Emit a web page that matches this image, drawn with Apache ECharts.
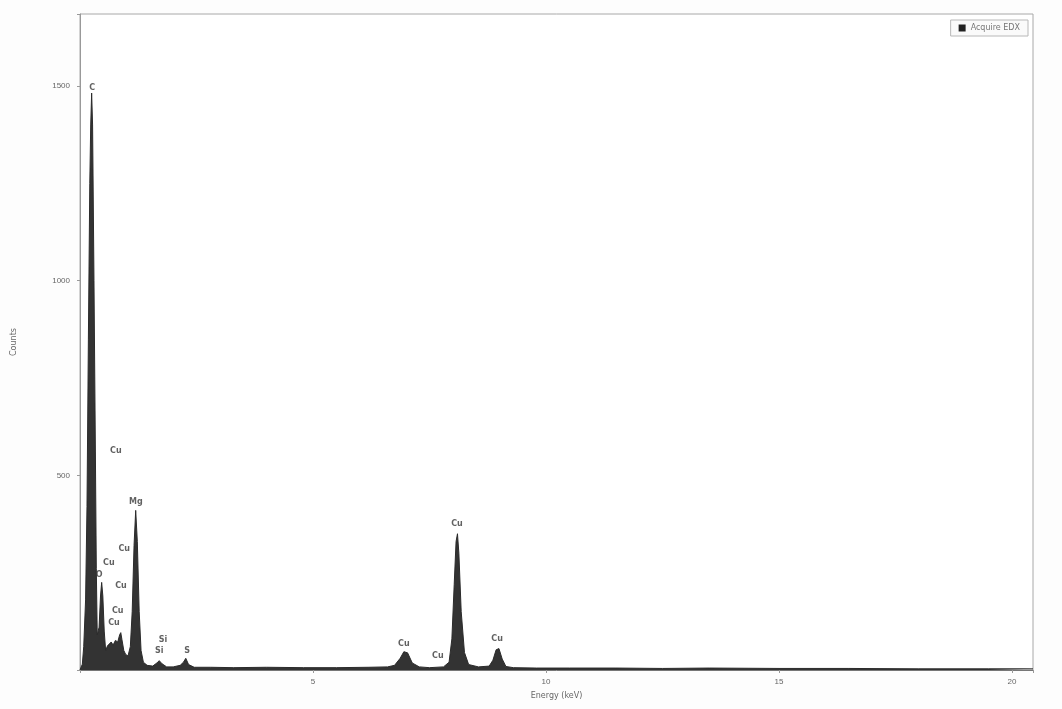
<!DOCTYPE html>
<html>
<head>
<meta charset="utf-8">
<title>EDX spectrum</title>
<script src="https://cdn.jsdelivr.net/npm/echarts@6/dist/echarts.min.js"></script>
<style>
    html, body { margin: 0; padding: 0; background: #fdfdfd; }
    #chart { width: 1062px; height: 709px; }
</style>
</head>
<body>
<div id="chart"></div>
<script>
// spectrum: energy (keV) and counts
const energy = [
    0, 0.05, 0.08, 0.12, 0.15, 0.18, 0.21, 0.23, 0.25, 0.27, 0.30, 0.33, 0.35, 0.37,
    0.41, 0.44, 0.465, 0.49, 0.52, 0.55, 0.59, 0.63, 0.67, 0.71, 0.76, 0.81, 0.85, 0.875, 0.90, 0.94, 0.98, 1.03,
    1.08, 1.12, 1.16, 1.195, 1.23, 1.27, 1.31, 1.36, 1.44, 1.56, 1.65, 1.70, 1.76, 1.86, 2.00, 2.15, 2.22, 2.27, 2.33, 2.45,
    2.8, 3.3, 4.0, 4.8, 5.5, 6.2, 6.6, 6.75, 6.87, 6.95, 7.03, 7.13, 7.28, 7.5, 7.8,
    7.92, 7.98, 8.03, 8.07, 8.10, 8.13, 8.18, 8.25, 8.34, 8.55, 8.78, 8.86, 8.93, 8.99, 9.06, 9.14, 9.30,
    9.8, 10.5, 11.5, 12.5, 13.5, 15, 16.5, 18, 19.5, 20.45
];
const counts = [
    0, 15, 60, 180, 420, 850, 1250, 1400, 1482, 1400, 1000, 560, 260, 90,
    110, 190, 225, 190, 100, 50, 62, 58, 72, 64, 76, 72, 90, 96, 78, 50, 40, 36,
    60, 150, 320, 410, 330, 150, 50, 20, 12, 10, 18, 24, 16, 8, 8, 12, 20, 30, 14, 7,
    7, 6, 7, 6, 6, 7, 8, 12, 30, 47, 44, 18, 8, 6, 8,
    20, 80, 220, 330, 350, 300, 150, 45, 14, 8, 10, 25, 52, 55, 28, 9, 6,
    5, 5, 5, 4, 5, 4, 4, 3, 3, 3
];

// element labels: name, energy, counts where the text sits
const peakNames = ['C', 'Cu', 'Mg', 'Cu', 'Cu', 'O', 'Cu', 'Cu', 'Cu', 'Si', 'Si', 'S', 'Cu', 'Cu', 'Cu', 'Cu'];
const peakEnergy = [0.26, 0.77, 1.20, 0.95, 0.62, 0.41, 0.88, 0.81, 0.73, 1.78, 1.70, 2.30, 6.95, 7.68, 8.09, 8.95];
const peakCounts = [1495, 562, 433, 312, 274, 243, 215, 151, 120, 76, 50, 48, 68, 35, 376, 81];

const seriesName = 'Acquire EDX';

const chart = echarts.init(document.getElementById('chart'));

const hideOdd = step => v => (v === 0 || v % step !== 0 ? '' : String(v));

chart.setOption({
    animation: false,
    backgroundColor: '#fdfdfd',
    grid: {
        left: 80,
        right: 29,
        top: 14,
        bottom: 39,
        show: true,
        borderColor: '#a8a8a8',
        borderWidth: 1,
        backgroundColor: '#ffffff'
    },
    legend: {
        data: [seriesName],
        right: 34,
        top: 20,
        icon: 'rect',
        itemWidth: 7,
        itemHeight: 7,
        itemGap: 4,
        padding: [4, 8],
        borderColor: '#b8b8b8',
        borderWidth: 1,
        backgroundColor: '#fafafa',
        textStyle: { fontSize: 8, color: '#777', fontFamily: 'DejaVu Sans' }
    },
    xAxis: {
        type: 'value',
        min: 0,
        max: 20.45,
        interval: 5,
        name: 'Energy (keV)',
        nameLocation: 'middle',
        nameGap: 22,
        nameTextStyle: { fontSize: 8, color: '#666', fontFamily: 'DejaVu Sans' },
        axisLine: { lineStyle: { color: '#777' } },
        axisTick: { length: 3, lineStyle: { color: '#999' } },
        axisLabel: { fontSize: 8, color: '#666', margin: 8, formatter: hideOdd(5) },
        splitLine: { show: false }
    },
    yAxis: {
        type: 'value',
        min: 0,
        max: 1685,
        interval: 500,
        name: 'Counts',
        nameLocation: 'middle',
        nameGap: 62,
        nameTextStyle: { fontSize: 8, color: '#666', fontFamily: 'DejaVu Sans' },
        axisLine: { show: true, lineStyle: { color: '#999' } },
        axisTick: { show: true, length: 3, lineStyle: { color: '#999' } },
        axisLabel: { fontSize: 8, color: '#666', margin: 10, formatter: hideOdd(500) },
        splitLine: { show: false }
    },
    series: [
        {
            name: seriesName,
            type: 'line',
            data: energy.map((e, i) => [e, counts[i]]),
            showSymbol: false,
            symbol: 'none',
            lineStyle: { color: '#2b2b2b', width: 1 },
            itemStyle: { color: '#222' },
            areaStyle: { color: '#333', opacity: 1 },
            z: 2
        },
        {
            name: 'labels',
            type: 'scatter',
            symbolSize: 0,
            data: peakNames.map((n, i) => [peakEnergy[i], peakCounts[i], n]),
            label: {
                show: true,
                position: 'inside',
                formatter: p => p.data[2],
                fontSize: 8,
                fontWeight: 'bold',
                color: '#3a3a3a',
                fontFamily: 'DejaVu Sans'
            },
            silent: true,
            z: 3
        }
    ]
});
</script>
</body>
</html>
